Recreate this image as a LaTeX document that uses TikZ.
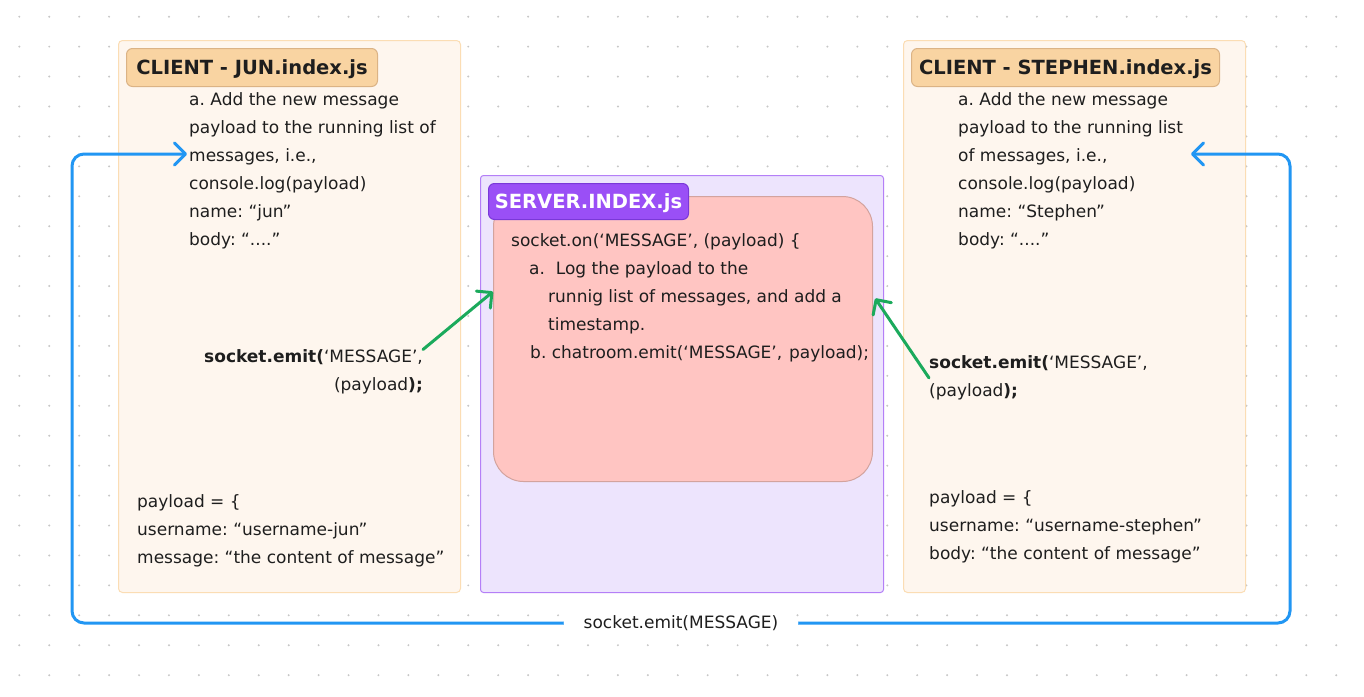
\documentclass[tikz,border=0pt]{standalone}
\usepackage{fontspec}
\setmainfont{DejaVu Sans}
\usetikzlibrary{arrows.meta}
\definecolor{ink}{HTML}{1E1E1E}
\definecolor{clientfill}{HTML}{FEF6EE}
\definecolor{clientline}{HTML}{FBDDB4}
\definecolor{tagfill}{HTML}{F9D4A2}
\definecolor{tagline}{HTML}{DBB385}
\definecolor{serverfill}{HTML}{EDE4FD}
\definecolor{serverline}{HTML}{B47FF7}
\definecolor{corefill}{HTML}{FFC5C2}
\definecolor{coreline}{HTML}{D3A39E}
\definecolor{servertag}{HTML}{9A4FF6}
\definecolor{servertagline}{HTML}{7A38D8}
\definecolor{loopblue}{HTML}{2196F3}
\definecolor{emitgreen}{HTML}{1BAA5C}
\newcommand\bodyfont{\fontsize{17}{28}\selectfont\frenchspacing}
\newcommand\tagfont{\fontsize{19.5}{24}\selectfont\bfseries}
\tikzset{
	clientbox/.style={draw=clientline, fill=clientfill, line width=1pt, rounded corners=4pt, anchor=north west, inner sep=0pt},
	tagbox/.style={draw=tagline, fill=tagfill, line width=1pt, rounded corners=6pt, anchor=north west, text=ink, font=\tagfont, inner sep=0pt, text depth=0pt},
	body/.style={anchor=north west, align=left, inner sep=0pt, text=ink, font=\bodyfont},
	emitline/.style={draw=emitgreen, line width=3pt, line cap=round, ->},
	loopline/.style={draw=loopblue, line width=3pt, line cap=round, rounded corners=12pt, <->}
}
\begin{document}
\begin{tikzpicture}[x=1pt, y=-1pt, >={Straight Barb[length=11pt,width=22pt,round]}]
				\useasboundingbox (0,0) rectangle (1364,696);
				\fill[white] (0,0) rectangle (1364,696);
				\foreach \i in {0,...,45} {
					\foreach \j in {0,...,22} {
						\fill[black!22] (19.3+29.93*\i, 16.7+29.93*\j) circle (1.1);
					}
				}
				\node[clientbox, minimum width=342pt, minimum height=552pt] (clientL) at (118,40) {};
				\node[clientbox, minimum width=342pt, minimum height=552pt] (clientR) at (903,40) {};
				\node[clientbox, draw=serverline, fill=serverfill, rounded corners=3pt, minimum width=403pt, minimum height=417pt] (server) at (480,175) {};
				\node[clientbox, draw=coreline, fill=corefill, rounded corners=30pt, minimum width=379pt, minimum height=285pt] (core) at (493,196) {};
				\node[tagbox, minimum width=251pt, minimum height=38pt] (tagL) at (126,48) {CLIENT - JUN.index.js};
				\node[tagbox, minimum width=308pt, minimum height=38pt] (tagR) at (911,48) {CLIENT - STEPHEN.index.js};
				\node[tagbox, draw=servertagline, fill=servertag, text=white, minimum width=200pt, minimum height=36pt] (tagS) at (488,183) {SERVER.INDEX.js};
				\node[body] (noteL) at (189,92.5) {a. Add the new message\\payload to the running list of\\messages, i.e.,\\console.log(payload)\\name: “jun”\\body: “....”};
				\node[body] (noteR) at (958,92.5) {a. Add the new message\\payload to the running list\\of messages, i.e.,\\console.log(payload)\\name: “Stephen”\\body: “....”};
				\node[body, anchor=north east, align=right] (emitL) at (423,349.5) {\textbf{socket.emit(}‘MESSAGE’,\\(payload\textbf{);}};
				\node[body] (emitR) at (929,355.5) {\textbf{socket.emit(}‘MESSAGE’,\\(payload\textbf{);}};
				\node[body] (payL) at (137,494.5) {payload = \{\\username: “username-jun”\\message: “the content of message”};
				\node[body] (payR) at (929,490.5) {payload = \{\\username: “username-stephen”\\body: “the content of message”};
				\node[body] (handler) at (511,233.5) {socket.on(‘MESSAGE’, (payload) \{\\\hspace*{18pt}a.\ \ Log the payload to the\\\hspace*{37pt}runnig list of messages, and add a\\\hspace*{37pt}timestamp.\\\hspace*{19pt}b. chatroom.emit(‘MESSAGE’,\ \hspace{1.5pt}payload);};
				\coordinate (hookL) at (187,154);
				\coordinate (hookR) at (1191,154);
				\draw[emitline] (emitL.north east) -- (core.166.5);
				\draw[emitline, shorten >=4pt] (emitR.west) -- (core.13);
				\draw[loopline] (hookL) -- (72,154) -- (72,623) -- node[fill=white, text=ink, font=\bodyfont, inner xsep=20pt, inner ysep=4pt] (label) {socket.emit(MESSAGE)} (1290,623) -- (1290,154) -- (hookR);
			\end{tikzpicture}
\end{document}
